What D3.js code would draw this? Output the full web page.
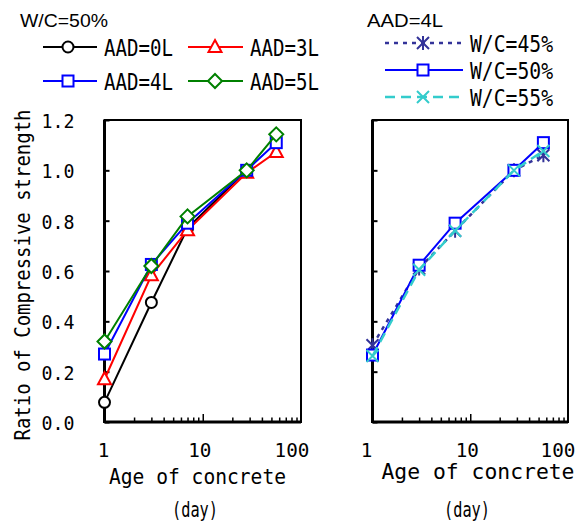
<!DOCTYPE html>
<html><head><meta charset="utf-8">
<script src="https://cdn.jsdelivr.net/npm/d3@7"></script>
<style>body{margin:0;background:#fff}svg{display:block}</style>
</head><body>
<script>
// ---- data ----
const days = [1, 3, 7, 28, 56];
const leftSeriesNames = ["AAD=0L", "AAD=3L", "AAD=4L", "AAD=5L"];
const aad0 = [0.078, 0.475, 0.77, 1.0];
const aad3 = [0.17, 0.583, 0.762, 0.99, 1.073];
const aad4 = [0.27, 0.626, 0.79, 1.0, 1.11];
const aad5 = [0.32, 0.62, 0.817, 1.0, 1.143];
const rightSeriesNames = ["W/C=45%", "W/C=50%", "W/C=55%"];
const wc45 = [0.305, 0.61, 0.76, 1.0, 1.06];
const wc50 = [0.266, 0.623, 0.79, 1.0, 1.11];
const wc55 = [0.262, 0.605, 0.76, 1.0, 1.077];
const yTicks = [0.0, 0.2, 0.4, 0.6, 0.8, 1.0, 1.2];
const xTickLabels = [1, 10, 100];
const xMinor = [2,3,4,5,6,7,8,9,20,30,40,50,60,70,80,90];

const W = 586, H = 525;
const svg = d3.select("body").append("svg").attr("width", W).attr("height", H);
const MONO = "'DejaVu Sans Mono', 'Liberation Mono', monospace";
const SANS = "'Liberation Sans', Arial, sans-serif";

function txt(g, x, y, s, o) {
  o = o || {};
  const t = g.append("text").attr("x", x).attr("y", y).text(s)
    .style("font-family", o.font || MONO).style("font-size", (o.fs || 20) + "px")
    .attr("text-anchor", o.anchor || "start").attr("fill", "#000");
  if (o.len) t.attr("textLength", o.len).attr("lengthAdjust", "spacingAndGlyphs");
  if (o.rot) t.attr("transform", `rotate(${o.rot},${x},${y})`);
  return t;
}

const y = d3.scaleLinear().domain([0, 1.2]).range([422, 120]);
const xL = d3.scaleLog().domain([1, 100]).range([104.5, 301]);
const xR = d3.scaleLog().domain([1, 100]).range([372.5, 568]);

function marker(g, type, cx, cy, color) {
  const m = g.append("g").attr("transform", `translate(${cx},${cy})`);
  let e;
  if (type === "circle") e = m.append("circle").attr("r", 5.5);
  else if (type === "square") e = m.append("rect").attr("x", -5.5).attr("y", -5.5).attr("width", 11).attr("height", 11);
  else if (type === "triangle") e = m.append("path").attr("d", "M0,-7 L6.5,5 L-6.5,5 Z");
  else if (type === "diamond") e = m.append("path").attr("d", "M0,-7 L7,0 L0,7 L-7,0 Z");
  else if (type === "x") e = m.append("path").attr("d", "M-6,-6 L6,6 M-6,6 L6,-6");
  else if (type === "star") e = m.append("path").attr("d", "M-6,-6 L6,6 M-6,6 L6,-6 M0,-7 L0,7");
  e.attr("stroke", color).attr("stroke-width", 2)
    .attr("fill", (type === "x" || type === "star") ? "none" : "#fff");
  return m;
}

function panel(x, showYLabels) {
  const g = svg.append("g");
  const [x0, x1] = x.range();
  const [y0, y1] = [y(0), y(1.2)];
  const ya = d3.axisLeft(y).tickValues(yTicks).tickSize(-5).tickFormat("");
  g.append("g").attr("transform", `translate(${x0},0)`).call(ya)
    .call(a => { a.select(".domain").remove(); a.selectAll("line").attr("stroke-width", 2); });
  const xa = d3.axisBottom(x).tickValues(xMinor).tickSize(-4.5).tickFormat("");
  g.append("g").attr("transform", `translate(0,${y0})`).call(xa)
    .call(a => { a.select(".domain").remove(); a.selectAll("line").attr("stroke-width", 1.5); });
  const xb = d3.axisBottom(x).tickValues([10]).tickSize(-8).tickFormat("");
  g.append("g").attr("transform", `translate(0,${y0})`).call(xb)
    .call(a => { a.select(".domain").remove(); a.selectAll("line").attr("stroke-width", 1.5); });
  g.append("rect").attr("x", x0).attr("y", y1).attr("width", x1 - x0).attr("height", y0 - y1)
    .attr("fill", "none").attr("stroke", "#000").attr("stroke-width", 2);
  g.append("line").attr("x1", x0).attr("x2", x0).attr("y1", y1).attr("y2", y0 + 1).attr("stroke", "#000").attr("stroke-width", 3);
  g.append("line").attr("x1", x0).attr("x2", x1).attr("y1", y0).attr("y2", y0).attr("stroke", "#000").attr("stroke-width", 3);
  if (showYLabels) {
    yTicks.forEach(v => txt(g, x0 - 63, y(v) + 8, v.toFixed(1), {anchor: "start", len: 33, fs: 19}));
  }
  return g;
}

const gL = panel(xL, true);
const gR = panel(xR, false);

const dxL = [-1, -3, -9], dxR = [-6, -3, -10];
xTickLabels.forEach((v, i) => {
  const s = String(v);
  txt(gL, xL(v) + dxL[i], 457, s, {anchor: "middle", len: s.length * 11.6});
  txt(gR, xR(v) + dxR[i], 457, s, {anchor: "middle", len: s.length * 11.6});
});
txt(svg, 197.5, 484, "Age of concrete", {anchor: "middle", len: 177, fs: 21});
txt(svg, 195, 517, "(day)", {anchor: "middle", len: 46, fs: 22});
txt(svg, 478, 479, "Age of concrete", {anchor: "middle", len: 193, fs: 21});
txt(svg, 467, 517, "(day)", {anchor: "middle", len: 46, fs: 22});
txt(svg, 30, 275, "Ratio of Compressive strength", {anchor: "middle", len: 331, rot: -90, fs: 21});

const leftSeries = [
  {name: leftSeriesNames[0], vals: aad0, color: "#000000", m: "circle"},
  {name: leftSeriesNames[1], vals: aad3, color: "#ff0000", m: "triangle"},
  {name: leftSeriesNames[2], vals: aad4, color: "#0000ff", m: "square"},
  {name: leftSeriesNames[3], vals: aad5, color: "#008000", m: "diamond"},
];
const rightSeries = [
  {name: rightSeriesNames[0], vals: wc45, color: "#333399", m: "star", dash: "4,5", w: 2.5},
  {name: rightSeriesNames[1], vals: wc50, color: "#0000ff", m: "square", dash: null, w: 2},
  {name: rightSeriesNames[2], vals: wc55, color: "#33cccc", m: "x", dash: "10,6", w: 2.5},
];

function drawSeries(g, x, s) {
  const pts = s.vals.map((v, i) => [x(days[i]), y(v)]);
  g.append("path").attr("d", d3.line()(pts)).attr("fill", "none").attr("stroke", s.color)
    .attr("stroke-width", s.w || 2).attr("stroke-dasharray", s.dash || null);
  s.vals.forEach((v, i) => marker(g, s.m, x(days[i]), y(v), s.color));
}
leftSeries.forEach(s => drawSeries(gL, xL, s));
rightSeries.forEach(s => drawSeries(gR, xR, s));

txt(svg, 20, 27, "W/C=50%", {font: SANS, fs: 19, len: 88});
txt(svg, 367, 27, "AAD=4L", {font: SANS, fs: 19, len: 76});
const legPos = [[43, 97, 68, 47], [188, 243, 215, 47], [43, 97, 68, 81], [188, 243, 215, 81]];
leftSeries.forEach((s, i) => {
  const [a, b, mx, ly] = legPos[i];
  svg.append("line").attr("x1", a).attr("x2", b).attr("y1", ly).attr("y2", ly).attr("stroke", s.color).attr("stroke-width", 2);
  marker(svg, s.m, mx, ly, s.color);
  txt(svg, b + 7, ly + 9, s.name, {len: 69, fs: 23});
});
rightSeries.forEach((s, i) => {
  const ly = 43 + i * 27;
  svg.append("line").attr("x1", 385).attr("x2", 463).attr("y1", ly).attr("y2", ly).attr("stroke", s.color)
    .attr("stroke-width", s.w).attr("stroke-dasharray", s.dash || null);
  marker(svg, s.m, 423, ly, s.color);
  txt(svg, 470, ly + 9, s.name, {len: 83, fs: 23});
});
</script>
</body></html>
